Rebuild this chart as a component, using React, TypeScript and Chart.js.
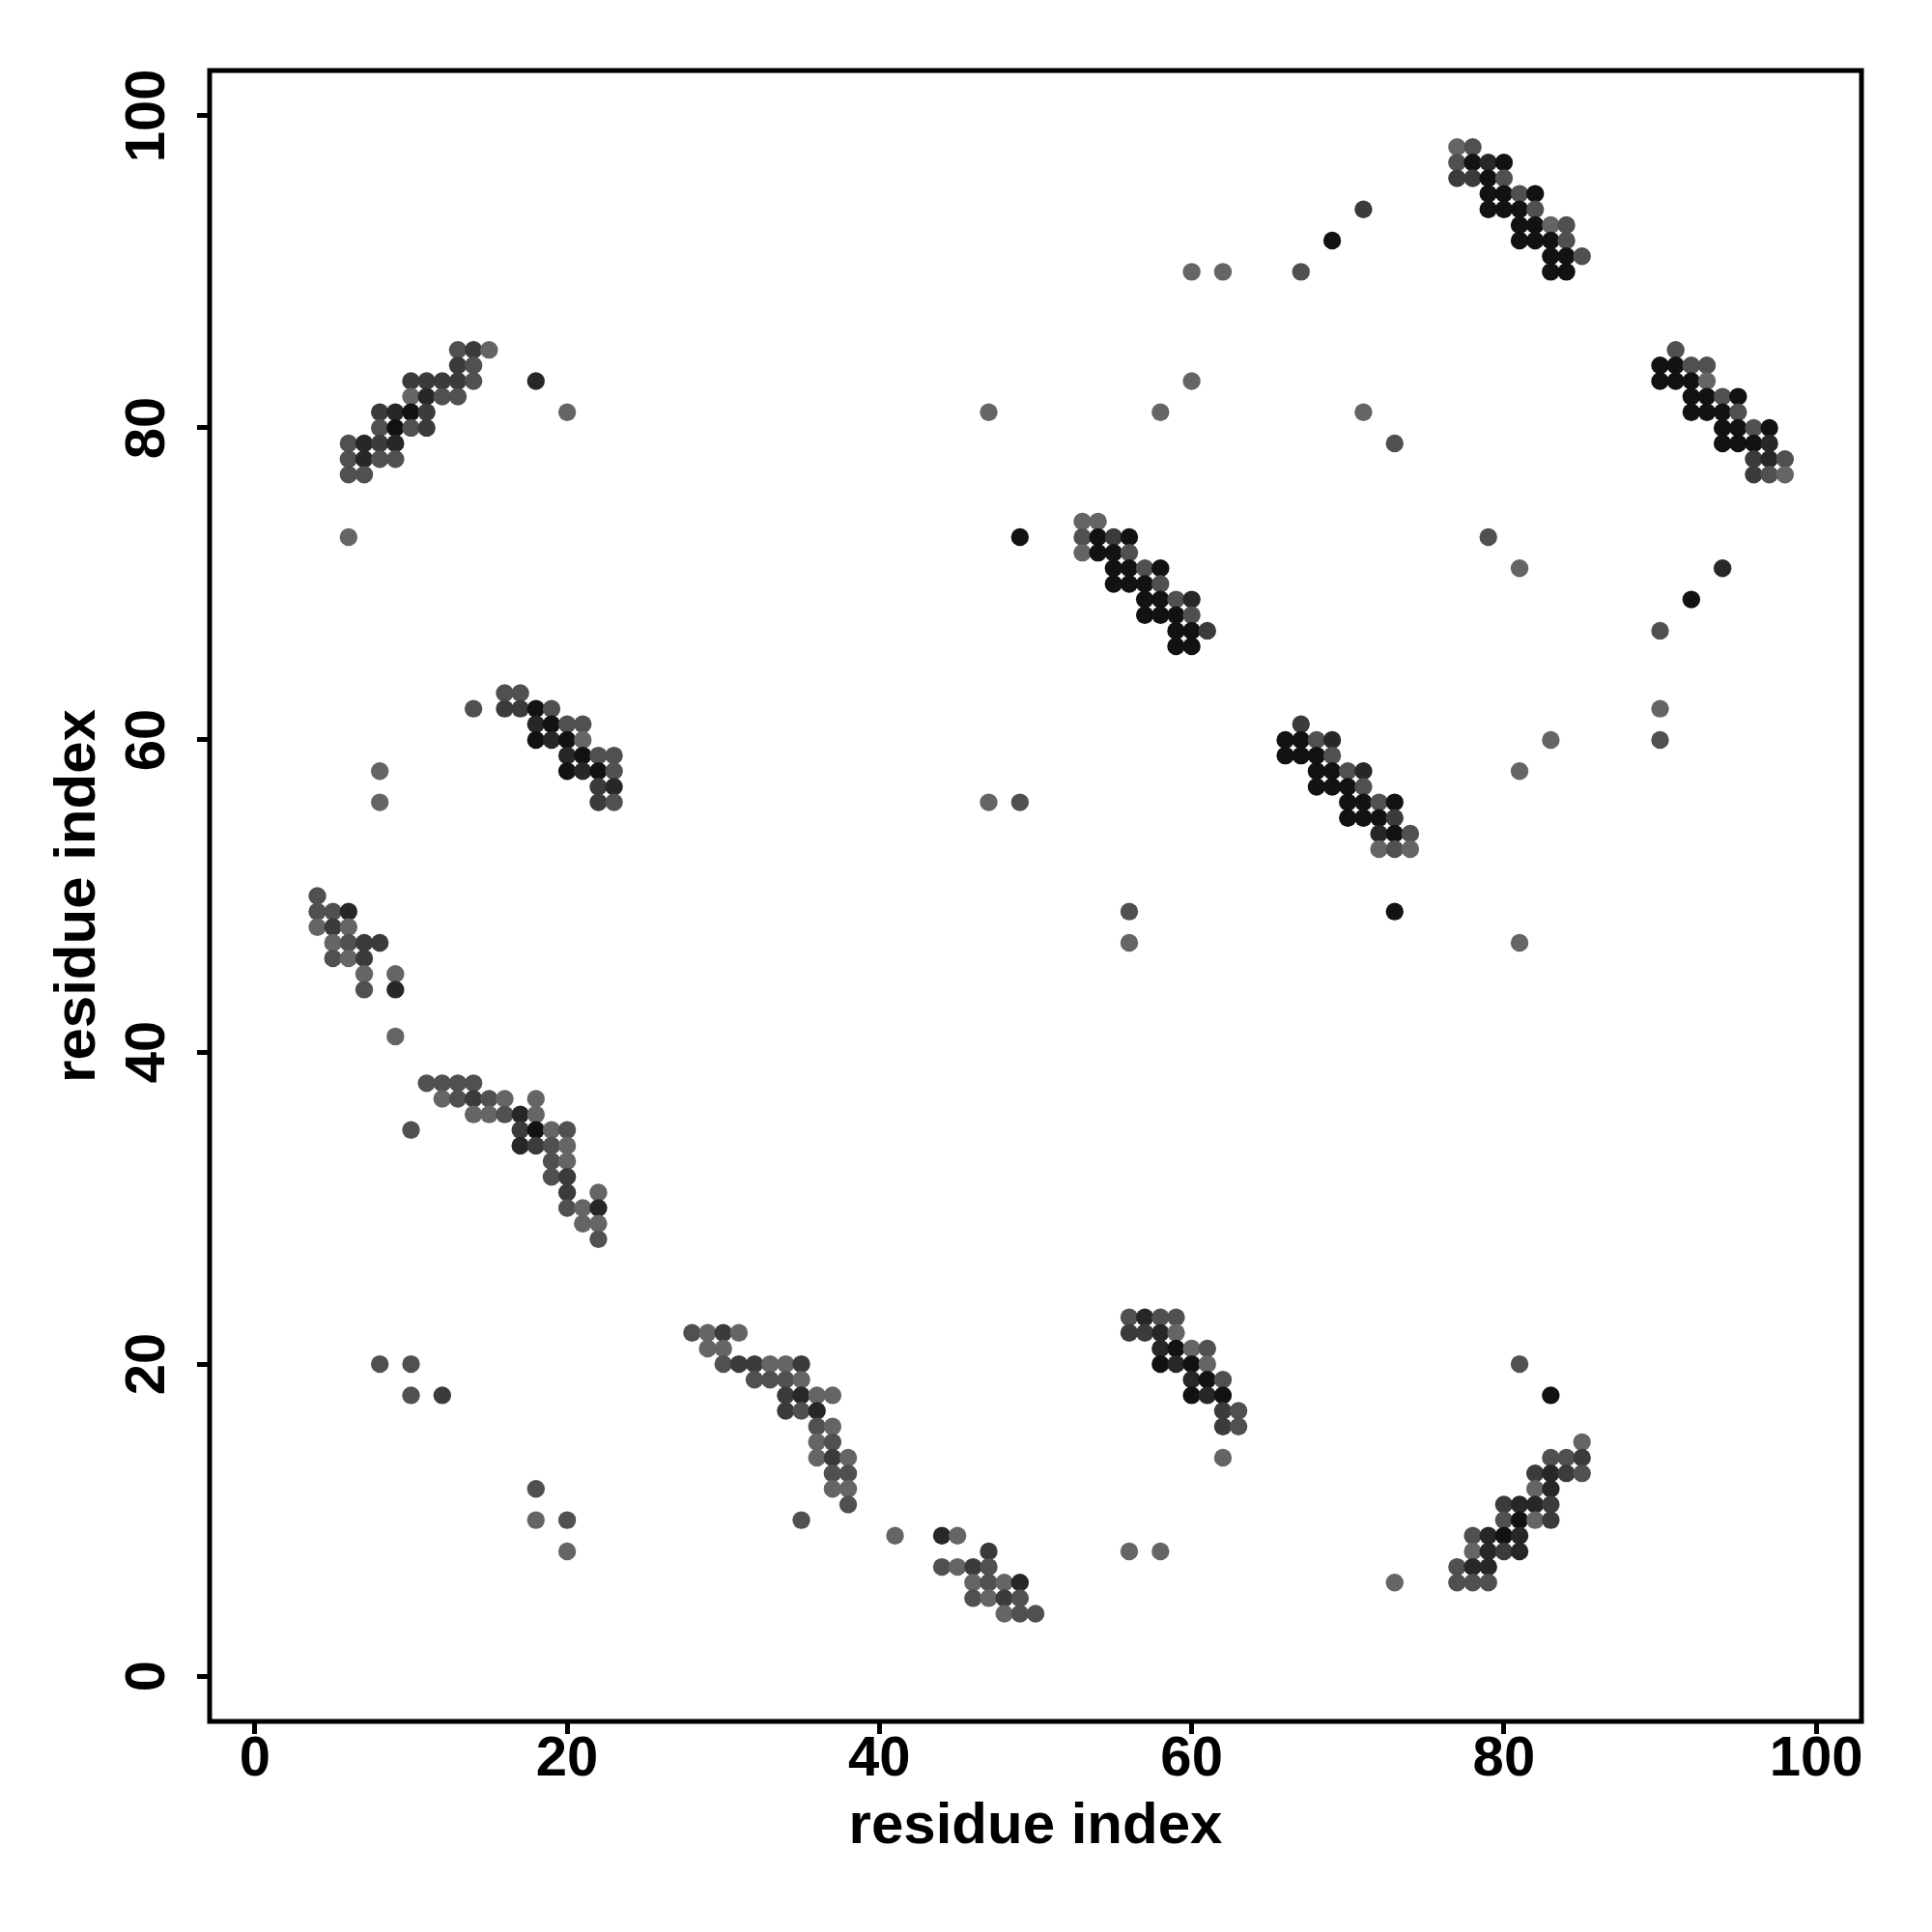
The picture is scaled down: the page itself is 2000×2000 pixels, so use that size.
import { useEffect, useRef } from "react";
import { Chart, registerables } from "chart.js";

Chart.register(...registerables);

// axis
const tickValues = [0, 20, 40, 60, 80, 100];
const axisTitle = "residue index";
const axisMin = -2.9;
const axisMax = 102.9;

// contact strength level 1 (strongest, darkest) .. 5 (weakest, lightest)
const shadeColors = ["#ffffff", "#121212", "#272727", "#3b3b3b", "#505050", "#656565"];

// [residue i, residue j, level]
const clusterA = [
  [13, 85, 4], [14, 85, 3], [15, 85, 5],
  [13, 84, 3], [14, 84, 4],
  [10, 83, 3], [11, 83, 3], [12, 83, 3], [13, 83, 3], [14, 83, 4],
  [10, 82, 5], [11, 82, 2], [12, 82, 4], [13, 82, 4],
  [8, 81, 3], [9, 81, 2], [10, 81, 1], [11, 81, 3],
  [8, 80, 4], [9, 80, 1], [10, 80, 4], [11, 80, 3],
  [6, 79, 4], [7, 79, 2], [8, 79, 3], [9, 79, 2],
  [6, 78, 4], [7, 78, 2], [8, 78, 4], [9, 78, 4],
  [6, 77, 4], [7, 77, 4],
  [6, 73, 5],
];

const clusterB = [
  [77, 98, 5], [78, 98, 4],
  [77, 97, 4], [78, 97, 1], [79, 97, 2], [80, 97, 1],
  [77, 96, 3], [78, 96, 3], [79, 96, 1], [80, 96, 4],
  [79, 95, 1], [80, 95, 1], [81, 95, 4], [82, 95, 1],
  [79, 94, 1], [80, 94, 1], [81, 94, 1], [82, 94, 4],
  [81, 93, 1], [82, 93, 1], [83, 93, 5], [84, 93, 4],
  [81, 92, 1], [82, 92, 1], [83, 92, 1], [84, 92, 4],
  [83, 91, 1], [84, 91, 1], [85, 91, 4],
  [83, 90, 1], [84, 90, 1],
];

const clusterC = [
  [91, 85, 4],
  [90, 84, 1], [91, 84, 1], [92, 84, 4], [93, 84, 4],
  [90, 83, 1], [91, 83, 1], [92, 83, 1], [93, 83, 5],
  [92, 82, 1], [93, 82, 1], [94, 82, 4], [95, 82, 1],
  [92, 81, 1], [93, 81, 1], [94, 81, 1], [95, 81, 4],
  [94, 80, 1], [95, 80, 1], [96, 80, 4], [97, 80, 1],
  [94, 79, 1], [95, 79, 1], [96, 79, 1], [97, 79, 2],
  [96, 78, 3], [97, 78, 2], [98, 78, 4],
  [96, 77, 3], [97, 77, 4], [98, 77, 5],
];

const clusterD = [
  [53, 74, 5], [54, 74, 5],
  [53, 73, 4], [54, 73, 1], [55, 73, 3], [56, 73, 1],
  [53, 72, 5], [54, 72, 1], [55, 72, 1], [56, 72, 4],
  [55, 71, 1], [56, 71, 1], [57, 71, 4], [58, 71, 1],
  [55, 70, 1], [56, 70, 1], [57, 70, 1], [58, 70, 4],
  [57, 69, 1], [58, 69, 1], [59, 69, 4], [60, 69, 2],
  [57, 68, 1], [58, 68, 1], [59, 68, 1], [60, 68, 4],
  [59, 67, 1], [60, 67, 1], [61, 67, 3],
  [59, 66, 1], [60, 66, 1],
];

const clusterE = [
  [67, 61, 3],
  [66, 60, 1], [67, 60, 1], [68, 60, 4], [69, 60, 2],
  [66, 59, 1], [67, 59, 1], [68, 59, 1], [69, 59, 4],
  [68, 58, 1], [69, 58, 1], [70, 58, 4], [71, 58, 2],
  [68, 57, 1], [69, 57, 1], [70, 57, 1], [71, 57, 4],
  [70, 56, 1], [71, 56, 1], [72, 56, 4], [73, 56, 1],
  [70, 55, 1], [71, 55, 1], [72, 55, 1], [73, 55, 3],
  [72, 54, 2], [73, 54, 1], [74, 54, 4],
  [72, 53, 5], [73, 53, 4], [74, 53, 5],
];

const clusterF = [
  [16, 63, 4], [17, 63, 4],
  [14, 62, 4], [16, 62, 3], [17, 62, 3], [18, 62, 1], [19, 62, 4],
  [18, 61, 2], [19, 61, 1], [20, 61, 4], [21, 61, 4],
  [18, 60, 1], [19, 60, 2], [20, 60, 1], [21, 60, 5],
  [20, 59, 2], [21, 59, 1], [22, 59, 4], [23, 59, 4],
  [20, 58, 1], [21, 58, 2], [22, 58, 1], [23, 58, 4],
  [22, 57, 3], [23, 57, 2],
  [22, 56, 3], [23, 56, 4],
];

const clusterG = [
  [4, 50, 4],
  [4, 49, 4], [5, 49, 4], [6, 49, 2],
  [4, 48, 5], [5, 48, 3], [6, 48, 5],
  [5, 47, 5], [6, 47, 4], [7, 47, 3], [8, 47, 3],
  [5, 46, 4], [6, 46, 5], [7, 46, 3],
  [7, 45, 5], [9, 45, 5],
  [7, 44, 4], [9, 44, 2],
  [9, 41, 5],
];

const clusterH = [
  [11, 38, 4], [12, 38, 4], [13, 38, 4], [14, 38, 4],
  [12, 37, 5], [13, 37, 4], [14, 37, 3], [15, 37, 4], [16, 37, 5], [18, 37, 5],
  [14, 36, 5], [15, 36, 5], [16, 36, 4], [17, 36, 2], [18, 36, 5],
  [10, 35, 4], [17, 35, 3], [18, 35, 1], [19, 35, 5], [20, 35, 4],
  [17, 34, 2], [18, 34, 3], [19, 34, 4], [20, 34, 5],
  [19, 33, 4], [20, 33, 5],
  [19, 32, 4], [20, 32, 3],
  [20, 31, 3], [22, 31, 5],
  [20, 30, 4], [21, 30, 5], [22, 30, 2],
  [21, 29, 5], [22, 29, 5],
  [22, 28, 4],
];

const clusterI = [
  [28, 22, 4], [29, 22, 5], [30, 22, 3], [31, 22, 5],
  [29, 21, 5], [30, 21, 5],
  [30, 20, 4], [31, 20, 3], [32, 20, 3], [33, 20, 5], [34, 20, 5], [35, 20, 3],
  [32, 19, 4], [33, 19, 4], [34, 19, 4], [35, 19, 5],
  [34, 18, 3], [35, 18, 2], [36, 18, 5], [37, 18, 5],
  [34, 17, 3], [35, 17, 4], [36, 17, 2],
  [36, 16, 4], [37, 16, 5],
  [36, 15, 5], [37, 15, 4],
  [36, 14, 5], [37, 14, 3], [38, 14, 5],
  [37, 13, 4], [38, 13, 4],
  [37, 12, 5], [38, 12, 5],
  [38, 11, 4],
  [35, 10, 4],
];

const clusterJ = [
  [41, 9, 5], [44, 9, 2], [45, 9, 5],
  [47, 8, 3],
  [44, 7, 4], [45, 7, 5], [46, 7, 3], [47, 7, 4],
  [46, 6, 5], [47, 6, 4], [48, 6, 5], [49, 6, 2],
  [46, 5, 4], [47, 5, 5], [48, 5, 3], [49, 5, 4],
  [48, 4, 5], [49, 4, 4], [50, 4, 4],
];

const clusterK = [
  [56, 23, 4], [57, 23, 2], [58, 23, 4], [59, 23, 4],
  [56, 22, 3], [57, 22, 3], [58, 22, 2], [59, 22, 5],
  [58, 21, 2], [59, 21, 1], [60, 21, 5], [61, 21, 4],
  [58, 20, 1], [59, 20, 2], [60, 20, 1], [61, 20, 5],
  [60, 19, 2], [61, 19, 1], [62, 19, 4],
  [60, 18, 1], [61, 18, 2], [62, 18, 1],
  [62, 17, 3], [63, 17, 4],
  [62, 16, 3], [63, 16, 4],
  [62, 14, 5],
];

const clusterL = [
  [85, 15, 5],
  [83, 14, 4], [84, 14, 4], [85, 14, 3],
  [82, 13, 3], [83, 13, 2], [84, 13, 3], [85, 13, 4],
  [82, 12, 5], [83, 12, 2],
  [80, 11, 3], [81, 11, 2], [82, 11, 2], [83, 11, 3],
  [80, 10, 4], [81, 10, 1], [82, 10, 5], [83, 10, 3],
  [78, 9, 4], [79, 9, 2], [80, 9, 1], [81, 9, 2],
  [78, 8, 5], [79, 8, 2], [80, 8, 3], [81, 8, 2],
  [77, 7, 4], [78, 7, 2], [79, 7, 2],
  [77, 6, 4], [78, 6, 4], [79, 6, 4],
];

const isolatedContacts = [
  [20, 81, 5], [18, 83, 2], [8, 58, 5], [8, 56, 5],
  [8, 20, 4], [10, 20, 4], [10, 18, 4], [12, 18, 3],
  [18, 12, 4], [18, 10, 5], [20, 10, 4], [20, 8, 5],
  [47, 81, 5], [49, 73, 1], [47, 56, 5], [49, 56, 4],
  [56, 49, 4], [56, 47, 5], [56, 8, 5], [58, 8, 5],
  [60, 90, 5], [62, 90, 5], [67, 90, 4], [69, 92, 1], [71, 94, 3],
  [58, 81, 5], [60, 83, 5], [71, 81, 5], [73, 79, 4],
  [79, 73, 4], [81, 71, 5], [94, 71, 2], [92, 69, 1], [90, 67, 4],
  [90, 62, 5], [90, 60, 4], [83, 60, 5], [81, 58, 5],
  [73, 49, 1], [81, 47, 5], [81, 20, 4], [83, 18, 1], [73, 6, 5],
];

const allContacts = [
  ...clusterA, ...clusterB, ...clusterC, ...clusterD, ...clusterE, ...clusterF,
  ...clusterG, ...clusterH, ...clusterI, ...clusterJ, ...clusterK, ...clusterL,
  ...isolatedContacts,
];

const FONT = "'Liberation Sans', Arial, Helvetica, sans-serif";

export default function App() {
  const ref = useRef<HTMLCanvasElement>(null);

  useEffect(() => {
    if (!ref.current) return;
    const boxPlugin = {
      id: "plotBox",
      afterDraw(chart: any) {
        const { ctx, chartArea: a } = chart;
        ctx.save();
        ctx.strokeStyle = "#000";
        ctx.lineWidth = 5;
        ctx.strokeRect(a.left, a.top, a.right - a.left, a.bottom - a.top);
        ctx.restore();
      },
    };
    const tickFont = { family: FONT, size: 58, weight: "bold" as const, lineHeight: 1 };
    const titleFont = { family: FONT, size: 60, weight: "bold" as const, lineHeight: 1 };
    const chart = new Chart(ref.current, {
      type: "scatter",
      data: {
        datasets: [
          {
            data: allContacts.map(([x, y]) => ({ x, y })),
            backgroundColor: allContacts.map((c) => shadeColors[c[2]]),
            borderWidth: 0,
            pointRadius: 9.2,
            pointHoverRadius: 9.2,
          },
        ],
      },
      options: {
        animation: false,
        responsive: false,
        devicePixelRatio: 1,
        events: [],
        layout: { padding: { top: 73, right: 73, left: 0, bottom: 0 } },
        plugins: { legend: { display: false }, tooltip: { enabled: false } },
        scales: {
          x: {
            type: "linear",
            min: axisMin,
            max: axisMax,
            afterBuildTicks: (s: any) => {
              s.ticks = tickValues.map((v) => ({ value: v }));
            },
            afterFit: (s: any) => {
              s.height = 218;
            },
            grid: { drawOnChartArea: false, tickLength: 13, color: "#000", lineWidth: 5 },
            border: { display: false },
            ticks: { color: "#000", font: tickFont, padding: -2, maxRotation: 0, minRotation: 0, autoSkip: false },
            title: { display: true, text: axisTitle, color: "#000", font: titleFont, padding: { top: 0, bottom: 79 } },
          },
          y: {
            type: "linear",
            min: axisMin,
            max: axisMax,
            afterBuildTicks: (s: any) => {
              s.ticks = tickValues.map((v) => ({ value: v }));
            },
            afterFit: (s: any) => {
              s.width = 217;
            },
            grid: { drawOnChartArea: false, tickLength: 13, color: "#000", lineWidth: 5 },
            border: { display: false },
            ticks: {
              color: "#000",
              font: tickFont,
              padding: 2,
              minRotation: 90,
              maxRotation: 90,
              crossAlign: "center",
              autoSkip: false,
            },
            title: { display: true, text: axisTitle, color: "#000", font: titleFont, padding: { top: 51, bottom: 0 } },
          },
        },
      },
      plugins: [boxPlugin],
    });
    return () => chart.destroy();
  }, []);

  return (
    <div style={{ position: "absolute", left: 0, top: 0, width: 2000, height: 2000, background: "#fff" }}>
      <canvas ref={ref} width={2000} height={2000} style={{ display: "block" }} />
    </div>
  );
}
